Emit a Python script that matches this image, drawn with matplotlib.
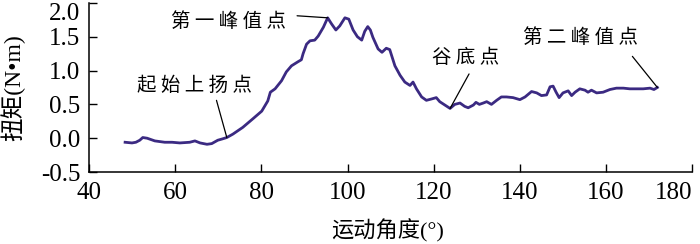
import matplotlib
matplotlib.use('Agg')
import matplotlib.pyplot as plt

# torque curve
angle = [48.4, 50.0, 50.9, 51.8, 52.5, 53.5, 55.3, 57.6, 59.3, 61.1, 63.4, 64.6,
         65.8, 67.4, 68.5, 69.9, 71.0, 72.0, 73.4, 75.7, 78.1, 80.1, 81.5, 82.1,
         83.2, 84.7, 85.8, 87.0, 88.5, 89.3, 89.7, 90.5, 91.3, 92.4, 93.2, 94.4,
         95.4, 96.3, 97.3, 98.2, 99.4, 100.3, 101.3, 102.3, 103.3, 104.0, 104.7,
         105.3, 105.9, 107.1, 108.0, 109.0, 109.8, 111.0, 112.2, 113.3, 114.5,
         115.2, 116.0, 117.2, 118.3, 119.5, 120.6, 121.4, 122.6, 123.8, 124.9,
         126.1, 127.2, 128.0, 129.2, 129.8, 130.6, 131.5, 132.3, 133.4, 134.6,
         135.7, 136.9, 138.4, 140.0, 141.2, 142.7, 143.9, 145.0, 146.2, 147.0,
         147.7, 148.4, 149.1, 150.0, 151.2, 152.0, 152.8, 153.9, 155.1, 155.8,
         156.6, 157.8, 159.3, 160.9, 162.4, 164.0, 165.5, 167.1, 168.6, 170.2,
         171.1, 171.9]
torque = [-0.06, -0.07, -0.06, -0.03, 0.01, 0.00, -0.04, -0.06, -0.06, -0.07, -0.06, -0.04,
          -0.07, -0.09, -0.08, -0.03, -0.01, 0.01, 0.06, 0.16, 0.29, 0.40, 0.55, 0.68,
          0.73, 0.85, 0.98, 1.07, 1.13, 1.16, 1.25, 1.39, 1.44, 1.45, 1.51, 1.64,
          1.78, 1.69, 1.60, 1.66, 1.78, 1.76, 1.60, 1.50, 1.45, 1.58, 1.65,
          1.60, 1.49, 1.32, 1.27, 1.33, 1.31, 1.07, 0.93, 0.83, 0.78,
          0.83, 0.73, 0.61, 0.56, 0.58, 0.60, 0.54, 0.49, 0.44, 0.50,
          0.52, 0.47, 0.45, 0.49, 0.53, 0.50, 0.52, 0.54, 0.50, 0.56,
          0.61, 0.61, 0.60, 0.57, 0.61, 0.69, 0.67, 0.63, 0.64, 0.76,
          0.77, 0.68, 0.60, 0.67, 0.70, 0.63, 0.68, 0.73, 0.71, 0.68,
          0.71, 0.67, 0.68, 0.72, 0.74, 0.74, 0.73, 0.73, 0.73, 0.74,
          0.72, 0.75]

xticks = [40, 60, 80, 100, 120, 140, 160, 180]
yticks = [-0.5, 0.0, 0.5, 1.0, 1.5, 2.0]
ytick_labels = ['-0.5', '0.0', '0.5', '1.0', '1.5', '2.0']

# label, index of the marked point, line start, text centre
notes = [
    ('第一峰值点', 36, (88.3, 1.81), (72.4, 1.725)),
    ('起始上扬点', 17, (69.6, 0.56), (64.4, 0.78)),
    ('谷底点', 65, (128.2, 0.95), (127.4, 1.20)),
    ('第二峰值点', -1, (166.1, 1.21), (154.1, 1.49)),
]

plt.rcParams['font.family'] = ['Liberation Serif', 'Noto Sans CJK SC']

fig = plt.figure(figsize=(7, 2.44), dpi=100)
ax = fig.add_axes([0.127, 0.295, 0.862, 0.693])

ax.plot(angle, torque, color='#3b2a82', lw=2.0, solid_joinstyle='round')

for label, i, start, pos in notes:
    ax.annotate('', xy=(angle[i], torque[i]), xytext=start,
                arrowprops=dict(arrowstyle='-', color='black', lw=0.9,
                                shrinkA=0, shrinkB=0))
    ax.text(pos[0], pos[1], ' '.join(label), ha='center', va='center',
            fontsize=14, family=['Noto Sans CJK SC', 'Liberation Serif'])

ax.set_xlim(40, 180)
ax.set_ylim(-0.5, 2.0)
ax.set_xticks(xticks)
ax.set_yticks(yticks)
ax.set_yticklabels(ytick_labels)
ax.tick_params(direction='in', length=6, width=1, pad=6, labelsize=18)
ax.tick_params(axis='x', pad=7)
# last x label sits left of its tick, top y label just under the edge
ax.get_xticklabels()[-1].set_horizontalalignment('right')
ax.get_yticklabels()[-1].set_verticalalignment('top')

ax.spines['top'].set_visible(False)
ax.spines['right'].set_visible(False)
for s in ['left', 'bottom']:
    ax.spines[s].set_linewidth(1.1)

fig.text(388 / 700, 1 - 231 / 244, '运动角度(°)', ha='center', va='center', fontsize=16)
fig.text(13 / 700, 1 - 88 / 244, '扭矩(N•m)', ha='center', va='center',
         rotation=90, fontsize=17)

fig.savefig('out.png', dpi=100)
